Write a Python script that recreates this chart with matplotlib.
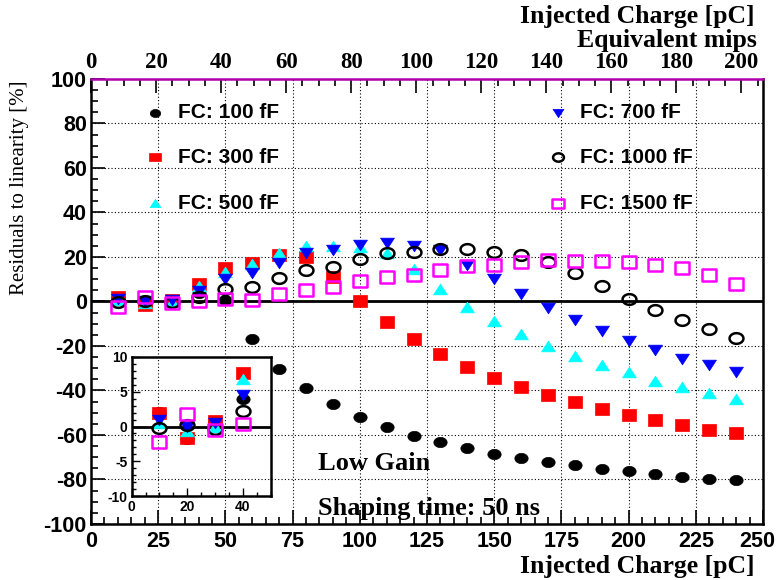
import matplotlib
matplotlib.use("Agg")
import numpy as np
import matplotlib.pyplot as plt
from matplotlib.path import Path
from matplotlib.ticker import MultipleLocator, FuncFormatter

plt.rcParams["axes.unicode_minus"] = False

# injected charge points [pC]
charge = [10, 20, 30, 40, 50, 60, 70, 80, 90, 100, 110, 120,
          130, 140, 150, 160, 170, 180, 190, 200, 210, 220, 230, 240]

# residuals to linearity [%] for each feedback capacitance
fc_100 = [2.1, -1.8, 0.8, 4.0, 0.5, -17.0, -30.2, -39.0, -46.0, -51.8, -56.3, -60.3,
          -63.3, -66.0, -68.5, -70.4, -72.2, -73.7, -75.2, -76.4, -77.6, -78.7, -79.7, -80.4]
fc_300 = [1.9, -1.7, 0.8, 7.7, 15.0, 17.5, 21.0, 20.2, 11.2, 0.0, -9.4, -17.0,
          -23.7, -29.3, -34.2, -38.4, -42.1, -45.4, -48.4, -51.0, -53.3, -55.5, -57.6, -59.3]
fc_500 = [0.5, -0.6, -0.1, 6.8, 13.3, 16.8, 22.0, 25.0, 25.0, 24.3, 21.7, 14.5,
          5.7, -2.3, -8.6, -14.4, -19.8, -24.5, -28.7, -31.9, -35.7, -38.4, -41.2, -43.9]
fc_700 = [1.0, 0.0, 0.5, 4.6, 10.0, 13.0, 17.5, 22.0, 23.2, 25.3, 26.5, 25.0,
          23.0, 16.5, 10.2, 3.2, -2.8, -8.3, -13.1, -17.8, -21.8, -25.7, -28.7, -31.9]
fc_1000 = [-0.2, 0.2, -0.4, 2.2, 5.5, 6.7, 10.5, 14.2, 15.7, 19.0, 21.7, 22.4,
           23.5, 23.5, 22.3, 20.8, 17.7, 12.7, 7.1, 1.3, -3.7, -8.2, -12.2, -16.2]
fc_1500 = [-2.3, 1.8, -0.5, 0.3, 1.3, 0.75, 3.3, 5.2, 6.3, 9.0, 11.1, 12.0,
           14.2, 16.1, 16.4, 17.7, 18.5, 18.3, 18.2, 17.9, 16.5, 15.0, 11.7, 7.8]

series = [fc_100, fc_300, fc_500, fc_700, fc_1000, fc_1500]
labels = ["FC: 100 fF", "FC: 300 fF", "FC: 500 fF",
          "FC: 700 fF", "FC: 1000 fF", "FC: 1500 fF"]

pc_per_mip = 1.21
x_max = 250

sans = "Liberation Sans"
serif = "Liberation Serif"


# markers a bit wider than tall
def wide(verts, sx=1.3):
    v = np.asarray(verts, dtype=float) * [sx, 1.0]
    return Path(np.vstack([v, v[:1]]), closed=True)


theta = np.linspace(0, 2 * np.pi, 40, endpoint=False)
circle = wide(np.column_stack([np.cos(theta), np.sin(theta)]))
square = wide([[-1, -1], [1, -1], [1, 1], [-1, 1]])
tri_up = wide([[0, 1], [-1, -1], [1, -1]])
tri_dn = wide([[0, -1], [-1, 1], [1, 1]])

# marker, face, edge, size
styles = [(circle, "black", "black", 9.6), (square, "red", "red", 10.6),
          (tri_up, "cyan", "cyan", 10.0), (tri_dn, "blue", "blue", 10.0),
          (circle, "none", "black", 10.0), (square, "none", "magenta", 10.8)]

fig = plt.figure(figsize=(7.76, 5.80), dpi=100)
ax = fig.add_axes([0.1173, 0.0966, 0.8659, 0.7672])

ax.set_xlim(0, x_max)
ax.set_ylim(-100, 100)
ax.grid(True, which="major", ls=(0, (1, 2)), color="black", lw=0.8)
ax.axhline(0, color="black", lw=2, zorder=2)

for vals, (m, fc, ec, ms) in zip(series, styles):
    ax.plot(charge, vals, ls="none", marker=m, ms=ms, mfc=fc, mec=ec,
            mew=1.8 if fc == "none" else 0.5, zorder=3)

ax.xaxis.set_major_locator(MultipleLocator(25))
ax.xaxis.set_minor_locator(MultipleLocator(5))
# the label at the right edge is placed separately so it stays on the canvas
ax.xaxis.set_major_formatter(FuncFormatter(lambda v, p: "" if v >= x_max else f"{v:g}"))
ax.yaxis.set_major_locator(MultipleLocator(20))
ax.yaxis.set_minor_locator(MultipleLocator(5))
ax.tick_params(which="both", direction="in", top=False, right=False, width=1.2)
ax.tick_params(which="major", length=10)
ax.tick_params(which="minor", length=5)
ax.tick_params(axis="y", pad=3)
ax.tick_params(axis="x", pad=5)
for lab in ax.get_xticklabels() + ax.get_yticklabels():
    lab.set_fontfamily(sans)
    lab.set_fontweight("bold")
    lab.set_fontsize(15.5)
fig.text(757 / 776, 1 - 531 / 580, f"{x_max}", ha="center", va="top",
         fontfamily=sans, fontweight="bold", fontsize=15.5)
for s in ax.spines.values():
    s.set_linewidth(1.8)
ax.spines["top"].set_color("#b000b0")

# equivalent mips on the top axis
sec = ax.secondary_xaxis("top", functions=(lambda q: q / pc_per_mip,
                                           lambda m: m * pc_per_mip))
sec.set_xticks(range(0, 201, 20))
sec.xaxis.set_minor_locator(MultipleLocator(5))
sec.tick_params(which="both", direction="in", width=1.2)
sec.tick_params(which="major", length=10, pad=4)
sec.tick_params(which="minor", length=5)
sec.spines["top"].set_visible(False)
for lab in sec.get_xticklabels():
    lab.set_fontfamily(serif)
    lab.set_fontweight("bold")
    lab.set_fontsize(16.5)

# legend drawn by hand in two columns
rows = [0.9236, 0.8247, 0.7213]
cols = [(0.0952, 0.1295), (0.695, 0.7277)]
for i, (lab, (m, fc, ec, ms)) in enumerate(zip(labels, styles)):
    mx, tx = cols[i // 3]
    yy = rows[i % 3]
    ax.plot([mx], [yy], transform=ax.transAxes, ls="none", marker=m, ms=ms * 0.78,
            mfc=fc, mec=ec, mew=1.8 if fc == "none" else 0.5, clip_on=False)
    ax.text(tx, yy, lab, transform=ax.transAxes, va="center", ha="left",
            fontfamily=sans, fontweight="bold", fontsize=15)

# zoom on the low charge region
ins = fig.add_axes([0.1697, 0.1448, 0.179, 0.2397])
ins.patch.set_alpha(0)
ins.set_xlim(0, 50)
ins.set_ylim(-10, 10)
ins.axhline(0, color="black", lw=2, zorder=2)
for vals, (m, fc, ec, ms) in zip(series, styles):
    ins.plot(charge[:4], vals[:4], ls="none", marker=m, ms=ms, mfc=fc, mec=ec,
             mew=1.8 if fc == "none" else 0.5, zorder=3)
ins.xaxis.set_major_locator(MultipleLocator(20))
ins.xaxis.set_minor_locator(MultipleLocator(5))
ins.yaxis.set_major_locator(MultipleLocator(5))
ins.yaxis.set_minor_locator(MultipleLocator(1))
ins.tick_params(which="both", direction="in", top=False, right=False, width=1)
ins.tick_params(which="major", length=6, pad=3)
ins.tick_params(which="minor", length=3)
for lab in ins.get_xticklabels() + ins.get_yticklabels():
    lab.set_fontfamily(sans)
    lab.set_fontweight("bold")
    lab.set_fontsize(10)
for s in ins.spines.values():
    s.set_linewidth(1.8)

# axis titles and annotations
fig.text(755 / 776, 1 - 16 / 580, "Injected Charge [pC]", ha="right", va="center",
         fontfamily=serif, fontweight="bold", fontsize=18.5)
fig.text(757 / 776, 1 - 41 / 580, "Equivalent mips", ha="right", va="center",
         fontfamily=serif, fontweight="bold", fontsize=18.5)
fig.text(755 / 776, 1 - 567 / 580, "Injected Charge [pC]", ha="right", va="center",
         fontfamily=serif, fontweight="bold", fontsize=18.5)
fig.text(20 / 776, 1 - 80 / 580, "Residuals to linearity [%]", rotation=90,
         ha="center", va="top", fontfamily=serif, fontsize=15)
fig.text(318 / 776, 1 - 463 / 580, "Low Gain", ha="left", va="center",
         fontfamily=serif, fontweight="bold", fontsize=19)
fig.text(318 / 776, 1 - 508 / 580, "Shaping time: 50 ns", ha="left", va="center",
         fontfamily=serif, fontweight="bold", fontsize=19)

fig.savefig("out.png", dpi=100)
